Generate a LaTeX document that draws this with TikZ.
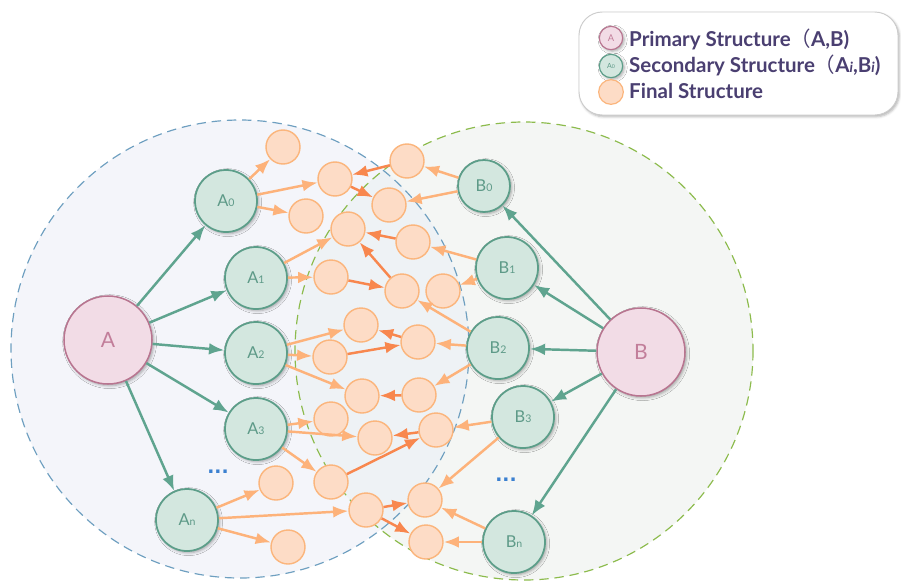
\documentclass[tikz,border=0pt]{standalone}
\usepackage{fontspec}
\setmainfont{Lato}
\newfontfamily\cjkfont{Noto Sans CJK SC}
\newfontfamily\dotfont{DejaVu Sans}
\usetikzlibrary{arrows.meta, shadows.blur}

\definecolor{leftfill}{HTML}{F4F5FA}
\definecolor{rightfill}{HTML}{F4F6F4}
\definecolor{bothfill}{HTML}{EEF2F5}
\definecolor{blueline}{HTML}{6E9FC0}
\definecolor{greenline}{HTML}{8CBB4C}
\definecolor{pinkfill}{HTML}{F2DCE6}
\definecolor{pinkline}{HTML}{B87590}
\definecolor{pinktext}{HTML}{C27E9A}
\definecolor{tealfill}{HTML}{D3E7DF}
\definecolor{tealline}{HTML}{5C9E89}
\definecolor{tealtext}{HTML}{5E9A88}
\definecolor{tealarrow}{HTML}{5FA48F}
\definecolor{orfill}{HTML}{FDDCC6}
\definecolor{orline}{HTML}{FBB57C}
\definecolor{lightor}{HTML}{FDB27A}
\definecolor{darkor}{HTML}{F8874E}
\definecolor{dotblue}{HTML}{3B80D0}
\definecolor{keytext}{HTML}{4A3F71}

\newcommand{\idx}[2]{#1{\fontsize{9}{9}\selectfont #2}}

\tikzset{
  soft/.style={blur shadow={shadow xshift=1.4pt, shadow yshift=-1.4pt,
      shadow opacity=35, shadow blur radius=2.5pt}},
  primary/.style={circle, inner sep=0pt, minimum size=2.64cm, draw=pinkline,
      fill=pinkfill, line width=1.3pt, text=pinktext,
      font=\fontsize{18}{18}\selectfont, soft},
  secondary/.style={circle, inner sep=0pt, minimum size=1.86cm, draw=tealline,
      fill=tealfill, line width=1.5pt, text=tealtext,
      font=\fontsize{14}{14}\selectfont, soft},
  final/.style={circle, inner sep=0pt, minimum size=1.02cm, draw=orline,
      fill=orfill, line width=1.2pt},
  spawn/.style={-{Latex[length=13pt, width=10pt]}, draw=tealarrow, line width=2.1pt},
  feed/.style={-{Latex[length=13pt, width=10pt]}, draw=lightor, line width=2.1pt},
  merge/.style={-{Latex[length=13pt, width=10pt]}, draw=darkor, line width=2.1pt},
  keyline/.style={text=keytext, anchor=west, inner sep=0pt,
      font=\bfseries\fontsize{17.5}{17.5}\selectfont},
  dots/.style={text=dotblue, font=\dotfont\bfseries\fontsize{16}{16}\selectfont}
}

\begin{document}
\begin{tikzpicture}[x=0.03cm, y=-0.03cm]
\useasboundingbox (0,0) rectangle (901,582);

% Domains
\newcommand{\rad}{229}
\coordinate (LC) at (240,349);
\coordinate (RC) at (524,351);
\fill[leftfill] (LC) circle[radius=\rad];
\fill[rightfill] (RC) circle[radius=\rad];
\begin{scope}
  \clip (LC) circle[radius=\rad];
  \fill[bothfill] (RC) circle[radius=\rad];
\end{scope}
\draw[blueline, line width=1pt, dash pattern=on 8pt off 5pt] (LC) circle[radius=\rad];
\draw[greenline, line width=1pt, dash pattern=on 8pt off 5pt] (RC) circle[radius=\rad];

% Primary
\node[primary] (A) at (108,340) {A};
\node[primary] (B) at (641,352) {B};

% Secondary
\node[secondary] (A0) at (226,201) {\idx{A}{0}};
\node[secondary] (A1) at (256,278) {\idx{A}{1}};
\node[secondary] (A2) at (256,353) {\idx{A}{2}};
\node[secondary] (A3) at (256,429) {\idx{A}{3}};
\node[secondary] (An) at (187,520) {\idx{A}{n}};
\node[secondary, minimum size=1.56cm] (B0) at (484,186) {\idx{B}{0}};
\node[secondary] (B1) at (507,268) {\idx{B}{1}};
\node[secondary] (B2) at (498,348) {\idx{B}{2}};
\node[secondary] (B3) at (523,417) {\idx{B}{3}};
\node[secondary] (Bn) at (514,542) {\idx{B}{n}};

\node[dots] (ldots) at (218,472) {...};
\node[dots] (rdots) at (506,480) {...};

% Final
\node[final] (f1) at (283,147) {};
\node[final] (f2) at (335,179) {};
\node[final] (f3) at (306,216) {};
\node[final] (f4) at (407,161) {};
\node[final] (f5) at (389,205) {};
\node[final] (f6) at (348,229) {};
\node[final] (f7) at (413,242) {};
\node[final] (f8) at (331,277) {};
\node[final] (f9) at (402,291) {};
\node[final] (f10) at (443,291) {};
\node[final] (f11) at (361,325) {};
\node[final] (f12) at (418,342) {};
\node[final] (f13) at (330,357) {};
\node[final] (f14) at (362,396) {};
\node[final] (f15) at (419,395) {};
\node[final] (f16) at (331,419) {};
\node[final] (f17) at (375,438) {};
\node[final] (f18) at (436,430) {};
\node[final] (f19) at (331,482) {};
\node[final] (f20) at (276,483) {};
\node[final] (f21) at (366,510) {};
\node[final] (f22) at (425,500) {};
\node[final] (f23) at (426,542) {};
\node[final] (f24) at (288,547) {};

% Primary -> secondary
\draw[spawn] (A) -- (A0);
\draw[spawn] (A) -- (A1);
\draw[spawn] (A) -- (A2);
\draw[spawn] (A) -- (A3);
\draw[spawn] (A) -- (An);
\draw[spawn] (B) -- (B0);
\draw[spawn] (B) -- (B1);
\draw[spawn] (B) -- (B2);
\draw[spawn] (B) -- (B3);
\draw[spawn] (B) -- (Bn);

% Secondary -> final
\draw[feed] (A0) -- (f1);
\draw[feed] (A0) -- (f2);
\draw[feed] (A0) -- (f3);
\draw[feed] (A1) -- (f6);
\draw[feed] (A1) -- (f8);
\draw[feed] (A2) -- (f11);
\draw[feed] (A2) -- (f13);
\draw[feed] (A2) -- (f14);
\draw[feed] (A3) -- (f16);
\draw[feed] (A3) -- (f17);
\draw[feed] (A3) -- (f19);
\draw[feed] (An) -- (f20);
\draw[feed] (An) -- (f21);
\draw[feed] (An) -- (f24);
\draw[feed] (B0) -- (f4);
\draw[feed] (B0) -- (f5);
\draw[feed] (B1) -- (f7);
\draw[feed] (B1) -- (f10);
\draw[feed] (B2) -- (f9);
\draw[feed] (B2) -- (f12);
\draw[feed] (B2) -- (f15);
\draw[feed] (B3) -- (f18);
\draw[feed] (B3) -- (f22);
\draw[feed] (Bn) -- (f22);
\draw[feed] (Bn) -- (f23);

% Final -> final
\draw[merge] (f4) -- (f2);
\draw[merge] (f2) -- (f5);
\draw[merge] (f7) -- (f6);
\draw[merge] (f9) -- (f6);
\draw[merge] (f8) -- (f9);
\draw[merge] (f12) -- (f11);
\draw[merge] (f13) -- (f12);
\draw[merge] (f15) -- (f14);
\draw[merge] (f18) -- (f17);
\draw[merge] (f19) -- (f18);
\draw[merge] (f21) -- (f22);
\draw[merge] (f21) -- (f23);

% Legend
\draw[draw=black!20, fill=white, line width=0.8pt, rounded corners=0.7cm,
  blur shadow={shadow xshift=1.2pt, shadow yshift=-1.5pt, shadow opacity=30}]
  (579,12) rectangle (898,115);
\node[primary, minimum size=0.7cm, line width=1pt, font=\fontsize{8}{8}\selectfont] (keyA) at (611,38) {A};
\node[secondary, minimum size=0.7cm, line width=1pt, font=\fontsize{6}{6}\selectfont] (keyA0) at (611,66) {A{\fontsize{4.5}{4.5}\selectfont 0}};
\node[final, minimum size=0.74cm, line width=1pt] (keyF) at (611,92) {};
\node[keyline] (keyAtxt) at (629,39) {Primary Structure{\cjkfont\mdseries （}A,B)};
\node[keyline] (keyA0txt) at (629,65) {Secondary Structure{\cjkfont\mdseries （}A{\itshape\fontsize{12}{12}\selectfont i},B{\itshape\fontsize{12}{12}\selectfont i})};
\node[keyline] (keyFtxt) at (629,91) {Final Structure};

\end{tikzpicture}
\end{document}
